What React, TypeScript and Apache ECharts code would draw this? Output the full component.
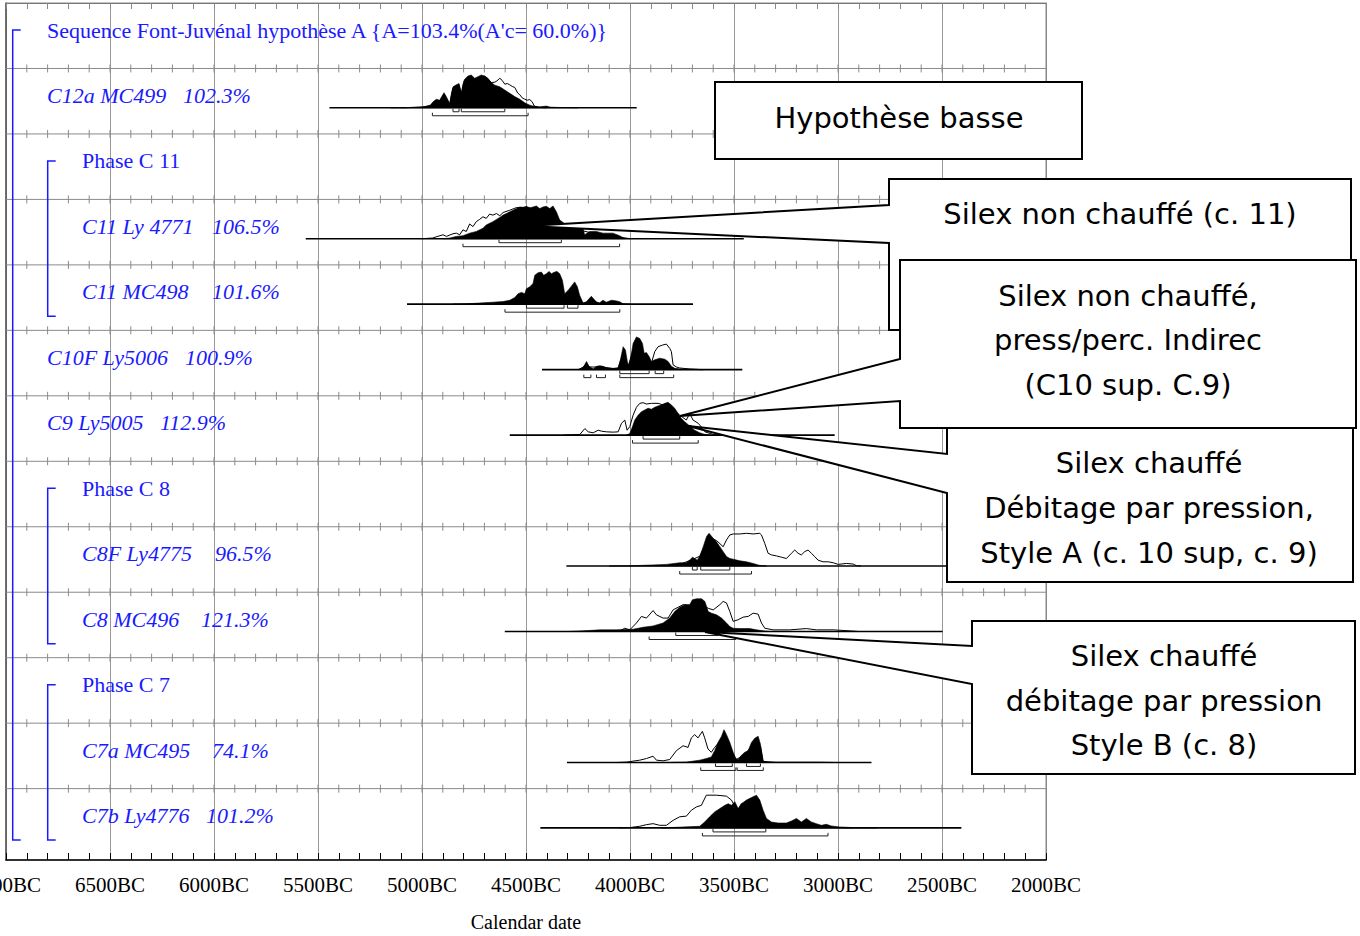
import React, { useEffect, useRef } from "react";
import * as echarts from "echarts";

// ---------------- axis ----------------
const YEAR_MIN = -7000;
const YEAR_MAX = -2000;
const YEAR_STEP = 500;
const MINOR_STEP = 100;
const ROW_MAX = 13.09;
const axisTitle = "Calendar date";

// ---------------- rows ----------------
const rowNames = [
  "Sequence Font-Juvénal hypothèse A {A=103.4%(A'c= 60.0%)}",
  "C12a MC499",
  "Phase C 11",
  "C11 Ly 4771",
  "C11 MC498",
  "C10F Ly5006",
  "C9 Ly5005",
  "Phase C 8",
  "C8F Ly4775",
  "C8 MC496",
  "Phase C 7",
  "C7a MC495",
  "C7b Ly4776",
];
const rowAgreements = ["", "102.3%", "", "106.5%", "101.6%", "100.9%", "112.9%", "", "96.5%", "121.3%", "", "74.1%", "101.2%"];
const rowIsDate = [false, true, false, true, true, true, true, false, true, true, false, true, true];
const rowLineIndex = [1, 2, 3, 4, 5, 6, 7, 8, 9, 10, 11, 12];

// ---------------- distributions: [year BC, relative height] ----------------
const c12aPrior = [[5100,0],[5000,0.02],[4960,0.06],[4947,0.15],[4931,0.22],[4915,0.2],[4900,0.36],[4894,0.42],[4880,0.26],[4867,0.1],[4858,0.4],[4851,0.6],[4835,0.66],[4822,0.7],[4811,0.42],[4800,0.76],[4779,0.9],[4747,0.85],[4715,0.95],[4699,0.96],[4683,0.88],[4667,0.77],[4650,0.78],[4640,0.82],[4626,0.9],[4615,0.84],[4602,0.72],[4590,0.74],[4578,0.7],[4566,0.65],[4554,0.62],[4540,0.45],[4530,0.4],[4518,0.3],[4506,0.26],[4494,0.23],[4482,0.25],[4470,0.18],[4460,0.05],[4440,0.01],[4400,0]];
const c12aPost = [[5150,0],[5043,0.01],[4990,0.03],[4960,0.08],[4947,0.18],[4931,0.26],[4915,0.23],[4900,0.4],[4894,0.46],[4880,0.3],[4867,0.12],[4858,0.45],[4851,0.64],[4835,0.7],[4822,0.74],[4811,0.45],[4800,0.8],[4795,0.87],[4779,0.97],[4763,1.0],[4747,0.9],[4731,0.95],[4715,1.0],[4699,0.97],[4683,0.9],[4667,0.77],[4650,0.69],[4626,0.64],[4602,0.54],[4578,0.44],[4554,0.34],[4530,0.26],[4506,0.15],[4482,0.08],[4466,0.05],[4434,0.03],[4402,0.05],[4385,0.02],[4350,0.01],[4250,0]];
const c12aSpan = [5445, 3968];
const c12aR68 = [[4851,4822],[4811,4602]];
const c12aR95 = [[4950,4490]];

const c11LyPrior = [[5000,0],[4950,0.02],[4899,0.12],[4883,0.07],[4851,0.15],[4835,0.17],[4819,0.12],[4803,0.27],[4787,0.22],[4771,0.45],[4755,0.37],[4739,0.52],[4723,0.59],[4707,0.67],[4691,0.62],[4675,0.75],[4659,0.72],[4642,0.77],[4626,0.7],[4610,0.8],[4578,0.87],[4546,0.95],[4498,0.96],[4450,0.9],[4400,0.8],[4350,0.6],[4300,0.35],[4200,0.2],[4100,0.1],[4000,0]];
const c11LyPost = [[4899,0],[4867,0.02],[4835,0.07],[4803,0.09],[4771,0.17],[4739,0.22],[4707,0.32],[4691,0.42],[4675,0.47],[4659,0.52],[4642,0.59],[4626,0.65],[4610,0.72],[4594,0.77],[4578,0.82],[4562,0.87],[4546,0.92],[4530,0.97],[4514,0.95],[4498,0.99],[4482,0.94],[4466,0.97],[4450,1.0],[4434,0.92],[4418,0.97],[4402,0.99],[4386,0.92],[4370,1.0],[4354,0.82],[4338,0.57],[4306,0.42],[4258,0.37],[4226,0.32],[4218,0.12],[4194,0.22],[4162,0.22],[4130,0.17],[4082,0.17],[4050,0.09],[4025,0]];
const c11LySpan = [5559, 3453];
const c11LyR68 = [[4630,4330]];
const c11LyR95 = [[4803,4050]];

const c11McPrior: number[][] = [];
const c11McPost = [[4850,0],[4787,0.01],[4706,0.04],[4658,0.06],[4610,0.08],[4578,0.12],[4554,0.2],[4538,0.32],[4522,0.36],[4506,0.32],[4498,0.47],[4482,0.53],[4466,0.63],[4458,0.88],[4442,0.96],[4426,0.98],[4415,0.88],[4402,0.93],[4389,1.0],[4378,0.93],[4362,0.98],[4351,1.0],[4338,0.93],[4325,0.73],[4314,0.32],[4298,0.42],[4282,0.55],[4266,0.68],[4253,0.53],[4242,0.27],[4226,0.04],[4210,0.07],[4186,0.24],[4162,0.07],[4146,0.04],[4130,0.12],[4114,0.06],[4089,0.12],[4065,0.1],[4049,0.07],[4033,0.01],[4001,0]];
const c11McSpan = [5072, 3697];
const c11McR68 = [[4498,4317],[4301,4250]];
const c11McR95 = [[4601,4049]];

const c10fPrior = [[4250,0],[4222,0.08],[4209,0.2],[4197,0.08],[4161,0.08],[4129,0.08],[4081,0.03],[4057,0.05],[4033,0.5],[4009,0.1],[3985,0.6],[3969,0.7],[3940,0.6],[3921,0.3],[3908,0.3],[3897,0.2],[3881,0.55],[3865,0.7],[3844,0.75],[3825,0.78],[3809,0.65],[3801,0.55],[3793,0.15],[3777,0.08],[3761,0.05],[3713,0.02],[3650,0]];
const c10fPost = [[4242,0],[4222,0.1],[4209,0.25],[4197,0.1],[4177,0.02],[4161,0.1],[4145,0.12],[4129,0.1],[4113,0.05],[4081,0.04],[4057,0.05],[4046,0.3],[4033,0.7],[4022,0.6],[4009,0.1],[3998,0.3],[3985,0.8],[3969,1.0],[3953,0.95],[3940,0.8],[3932,0.5],[3921,0.52],[3908,0.4],[3897,0.25],[3881,0.3],[3857,0.35],[3833,0.32],[3817,0.25],[3801,0.1],[3785,0.04],[3761,0.02],[3713,0.01],[3649,0]];
const c10fSpan = [4423, 3460];
const c10fR68 = [[4049,3908],[3879,3838]];
const c10fR95 = [[4222,4188],[4161,4118],[4049,3790]];

const c9Prior = [[4322,0],[4280,0.01],[4241,0.02],[4217,0.2],[4201,0.1],[4177,0.07],[4153,0.15],[4137,0.12],[4113,0.1],[4081,0.09],[4057,0.1],[4041,0.36],[4025,0.46],[4014,0.15],[4001,0.26],[3985,0.61],[3969,0.85],[3953,0.97],[3937,0.99],[3921,0.95],[3897,0.97],[3865,0.97],[3825,0.89],[3793,0.79],[3761,0.61],[3729,0.46],[3713,0.66],[3697,0.46],[3672,0.36],[3661,0.28],[3640,0.1],[3600,0.02],[3568,0]];
const c9Post = [[4017,0],[4001,0.05],[3988,0.26],[3977,0.46],[3961,0.61],[3945,0.71],[3929,0.77],[3913,0.82],[3897,0.79],[3881,0.85],[3865,0.89],[3849,0.92],[3833,0.97],[3817,1.0],[3801,0.92],[3785,0.82],[3769,0.66],[3753,0.51],[3737,0.41],[3713,0.28],[3689,0.15],[3665,0.07],[3640,0.02],[3616,0]];
const c9Span = [4578, 3016];
const c9R68 = [[3937,3761]];
const c9R95 = [[3988,3672]];

const c8fPrior = [[3780,0],[3700,0.2],[3664,0.3],[3632,0.7],[3610,0.85],[3584,0.78],[3552,0.59],[3536,0.8],[3520,0.95],[3504,0.98],[3472,0.98],[3440,1.0],[3408,0.98],[3376,1.0],[3368,0.95],[3352,0.69],[3336,0.39],[3320,0.34],[3296,0.31],[3272,0.27],[3248,0.23],[3224,0.39],[3208,0.49],[3192,0.39],[3176,0.34],[3160,0.44],[3144,0.49],[3128,0.39],[3112,0.29],[3096,0.18],[3072,0.13],[3047,0.13],[3023,0.1],[2999,0.05],[2959,0.08],[2927,0.06],[2911,0.01],[2890,0]];
const c8fPost = [[4100,0],[3985,0.01],[3825,0.05],[3761,0.1],[3729,0.1],[3713,0.18],[3700,0.27],[3689,0.23],[3677,0.18],[3664,0.31],[3648,0.59],[3632,0.9],[3620,1.0],[3600,0.85],[3584,0.74],[3568,0.59],[3552,0.44],[3536,0.29],[3520,0.23],[3504,0.21],[3472,0.16],[3440,0.13],[3408,0.08],[3376,0.02],[3344,0]];
const c8fSpan = [4306, 2480];
const c8fR68 = [[3700,3677],[3660,3520]];
const c8fR95 = [[3761,3416]];

const c8Prior = [[4080,0],[4049,0.02],[4025,0.1],[4001,0.05],[3969,0.26],[3945,0.46],[3921,0.41],[3889,0.64],[3873,0.51],[3841,0.41],[3817,0.41],[3793,0.66],[3769,0.74],[3745,0.82],[3713,0.8],[3680,0.9],[3650,0.8],[3624,0.71],[3600,0.66],[3568,0.82],[3552,0.92],[3536,0.87],[3520,0.61],[3504,0.31],[3480,0.36],[3456,0.44],[3432,0.46],[3408,0.56],[3384,0.53],[3368,0.26],[3352,0.1],[3312,0.05],[3232,0.05],[3152,0.09],[3104,0.05],[3023,0.05],[2943,0.02],[2900,0]];
const c8Post = [[4300,0],[4225,0.02],[4145,0.05],[4065,0.05],[3985,0.07],[3937,0.13],[3889,0.17],[3841,0.26],[3809,0.41],[3785,0.61],[3761,0.74],[3737,0.82],[3713,0.82],[3700,0.97],[3680,1.0],[3656,1.0],[3640,0.92],[3624,0.61],[3608,0.56],[3584,0.51],[3560,0.41],[3536,0.26],[3520,0.15],[3504,0.1],[3472,0.09],[3424,0.09],[3392,0.05],[3360,0.02],[3328,0]];
const c8Span = [4602, 2497];
const c8R68 = [[3780,3576]];
const c8R95 = [[3908,3491]];

const c7aPrior = [[4060,0],[4017,0.01],[3953,0.07],[3921,0.12],[3889,0.19],[3873,0.07],[3841,0.05],[3809,0.09],[3777,0.36],[3745,0.51],[3721,0.46],[3705,0.75],[3689,0.85],[3673,0.75],[3652,0.95],[3641,0.75],[3625,0.41],[3609,0.31],[3593,0.46],[3560,0.7],[3536,0.7],[3491,0.08],[3448,0.25],[3400,0.6],[3373,0.5],[3360,0.03],[3300,0]];
const c7aPost = [[3800,0],[3729,0.01],[3665,0.07],[3633,0.12],[3609,0.17],[3593,0.36],[3577,0.61],[3560,0.8],[3548,1.0],[3536,0.85],[3520,0.61],[3504,0.31],[3491,0.12],[3480,0.09],[3464,0.22],[3448,0.31],[3432,0.36],[3416,0.61],[3400,0.74],[3384,0.8],[3373,0.56],[3360,0.04],[3336,0.01],[3088,0.01],[3024,0]];
const c7aSpan = [4303, 2839];
const c7aR68 = [[3589,3508],[3440,3373]];
const c7aR95 = [[3660,3491],[3485,3359]];

const c7bPrior = [[4050,0],[4001,0.01],[3953,0.05],[3921,0.1],[3889,0.13],[3857,0.08],[3825,0.08],[3793,0.23],[3761,0.34],[3729,0.36],[3705,0.54],[3681,0.64],[3657,0.69],[3633,1.0],[3585,1.0],[3536,0.97],[3512,0.85],[3496,0.66],[3480,0.56],[3464,0.74],[3440,0.7],[3392,0.7],[3344,0.25],[3310,0.1],[3250,0.06],[3100,0.03],[2930,0]];
const c7bPost = [[3850,0],[3809,0.01],[3665,0.05],[3641,0.18],[3617,0.34],[3593,0.49],[3568,0.59],[3544,0.69],[3528,0.74],[3512,0.69],[3496,0.8],[3480,0.59],[3464,0.74],[3440,0.85],[3416,0.93],[3392,1.0],[3376,0.85],[3360,0.54],[3344,0.29],[3320,0.18],[3288,0.15],[3248,0.15],[3224,0.21],[3200,0.29],[3176,0.18],[3152,0.29],[3128,0.18],[3104,0.13],[3080,0.08],[3056,0.11],[3032,0.06],[2992,0.03],[2927,0.01],[2815,0]];
const c7bSpan = [4431, 2407];
const c7bR68 = [[3601,3347]];
const c7bR95 = [[3652,3048]];

const distRows = [
  { row: 1, prior: c12aPrior, post: c12aPost, span: c12aSpan, r68: c12aR68, r95: c12aR95 },
  { row: 3, prior: c11LyPrior, post: c11LyPost, span: c11LySpan, r68: c11LyR68, r95: c11LyR95 },
  { row: 4, prior: c11McPrior, post: c11McPost, span: c11McSpan, r68: c11McR68, r95: c11McR95 },
  { row: 5, prior: c10fPrior, post: c10fPost, span: c10fSpan, r68: c10fR68, r95: c10fR95 },
  { row: 6, prior: c9Prior, post: c9Post, span: c9Span, r68: c9R68, r95: c9R95 },
  { row: 8, prior: c8fPrior, post: c8fPost, span: c8fSpan, r68: c8fR68, r95: c8fR95 },
  { row: 9, prior: c8Prior, post: c8Post, span: c8Span, r68: c8R68, r95: c8R95 },
  { row: 11, prior: c7aPrior, post: c7aPost, span: c7aSpan, r68: c7aR68, r95: c7aR95 },
  { row: 12, prior: c7bPrior, post: c7bPost, span: c7bSpan, r68: c7bR68, r95: c7bR95 },
];

// ---------------- callout texts ----------------
const calloutTexts = [
  ["Hypothèse basse"],
  ["Silex non chauffé (c. 11)"],
  ["Silex non chauffé,", "press/perc. Indirec", "(C10 sup. C.9)"],
  ["Silex chauffé", "Débitage par pression,", "Style A (c. 10 sup, c. 9)"],
  ["Silex chauffé", "débitage par pression", "Style B (c. 8)"],
];

// ---------------- layout (pixels / styles) ----------------
const GRID_LEFT = 6;
const GRID_TOP = 3;
const GRID_RIGHT = 314;
const GRID_BOTTOM = 76;
const ROW_PX = (936 - GRID_TOP - GRID_BOTTOM) / ROW_MAX;
const PEAK = 0.5;
const BASE_OFF = 0.6;
const BLUE = "#1a1aff";
const SERIF = "Liberation Serif";
const CALLOUT_FONT = "DejaVu Sans";
const nameX = [47, 47, 82, 82, 82, 47, 47, 82, 82, 82, 82, 82, 82];
const pctX = [0, 183, 0, 212, 212, 185, 160, 0, 215, 201, 0, 212, 206];
const calloutShapes = [
  { pts: [[715, 82], [1082, 82], [1082, 159], [715, 159]], cx: 899, lines: [118] },
  { pts: [[889, 179], [1351, 179], [1351, 330], [889, 330], [889, 243], [527, 226], [889, 205]], cx: 1120, lines: [214] },
  { pts: [[900, 260], [1356, 260], [1356, 428], [900, 428], [900, 401], [680, 416], [900, 359]], cx: 1128, lines: [296, 340, 385] },
  { pts: [[947, 428], [1353, 428], [1353, 582], [947, 582], [947, 493], [688, 426], [947, 454]], cx: 1149, lines: [463, 508, 553] },
  { pts: [[972, 621], [1355, 621], [1355, 774], [972, 774], [972, 684], [705, 632], [972, 646]], cx: 1164, lines: [656, 701, 745] },
];
const bracketSpans = [
  { x: 12.7, fromRow: 0, toRow: 12 },
  { x: 47.7, fromRow: 2, toRow: 4 },
  { x: 47.7, fromRow: 7, toRow: 9 },
  { x: 47.7, fromRow: 10, toRow: 12 },
];

const labelY = (r: number) => GRID_TOP + r * ROW_PX + 27;

function renderRowLine(params: any, api: any) {
  const r = rowLineIndex[params.dataIndex];
  const p0 = api.coord([YEAR_MIN, r]);
  const p1 = api.coord([YEAR_MAX, r]);
  const children: any[] = [
    { type: "line", shape: { x1: p0[0], y1: p0[1], x2: p1[0], y2: p1[1] }, style: { stroke: "#8a8a8a", lineWidth: 1 } },
  ];
  for (let yr = YEAR_MIN + MINOR_STEP; yr < YEAR_MAX; yr += MINOR_STEP) {
    const t = api.coord([yr, r]);
    children.push({ type: "line", shape: { x1: t[0], y1: t[1] - 4, x2: t[0], y2: t[1] + 4 }, style: { stroke: "#8a8a8a", lineWidth: 1 } });
  }
  return { type: "group", children };
}

function renderDist(params: any, api: any) {
  const d = distRows[params.dataIndex];
  const base = d.row + BASE_OFF;
  const pt = (bc: number, h: number) => api.coord([-bc, base - h * PEAK]);
  const children: any[] = [];
  if (d.prior.length) {
    children.push({
      type: "polyline",
      shape: { points: d.prior.map(([bc, h]) => pt(bc, h)) },
      style: { stroke: "#000", lineWidth: 1, fill: "none" },
    });
  }
  const post = d.post.map(([bc, h]) => pt(bc, h));
  post.push(pt(d.post[d.post.length - 1][0], 0));
  post.push(pt(d.post[0][0], 0));
  children.push({ type: "polygon", shape: { points: post }, style: { fill: "#000", stroke: "#000", lineWidth: 0.6 } });
  const b0 = pt(d.span[0], 0);
  const b1 = pt(d.span[1], 0);
  children.push({ type: "line", shape: { x1: b0[0], y1: b0[1], x2: b1[0], y2: b1[1] }, style: { stroke: "#000", lineWidth: 1.6 } });
  const bracket = (ranges: number[][], off: number) => {
    ranges.forEach(([a, b]) => {
      const p = pt(a, 0);
      const q = pt(b, 0);
      const y = p[1] + off;
      children.push({
        type: "polyline",
        shape: { points: [[p[0], y - 3], [p[0], y], [q[0], y], [q[0], y - 3]] },
        style: { stroke: "#222", lineWidth: 1, fill: "none" },
      });
    });
  };
  bracket(d.r68, 4);
  bracket(d.r95, 8);
  return { type: "group", children };
}

function buildGraphic() {
  const els: any[] = [];
  rowNames.forEach((name, r) => {
    const style = rowIsDate[r] ? "italic" : "normal";
    els.push({
      type: "text", z: 50,
      style: { text: name, x: nameX[r], y: labelY(r), fill: BLUE, fontFamily: SERIF, fontSize: 22, fontStyle: style, align: "left", verticalAlign: "middle" },
    });
    if (rowAgreements[r]) {
      els.push({
        type: "text", z: 50,
        style: { text: rowAgreements[r], x: pctX[r], y: labelY(r), fill: BLUE, fontFamily: SERIF, fontSize: 22, fontStyle: style, align: "left", verticalAlign: "middle" },
      });
    }
  });
  bracketSpans.forEach((b) => {
    const top = labelY(b.fromRow);
    const bottom = GRID_TOP + (b.toRow + 1) * ROW_PX - 14;
    els.push({
      type: "polyline", z: 50,
      shape: { points: [[b.x + 8, top], [b.x, top], [b.x, bottom], [b.x + 8, bottom]] },
      style: { stroke: BLUE, lineWidth: 1.5, fill: "none" },
    });
  });
  calloutShapes.forEach((c, i) => {
    els.push({ type: "polygon", z: 100, shape: { points: c.pts }, style: { fill: "#fff", stroke: "#000", lineWidth: 2 } });
    calloutTexts[i].forEach((line, j) => {
      els.push({
        type: "text", z: 101,
        style: { text: line, x: c.cx, y: c.lines[j], fill: "#000", fontFamily: CALLOUT_FONT, fontSize: 29, align: "center", verticalAlign: "middle" },
      });
    });
  });
  return els;
}

function buildOption(): any {
  return {
    animation: false,
    backgroundColor: "#fff",
    grid: {
      left: GRID_LEFT, right: GRID_RIGHT, top: GRID_TOP, bottom: GRID_BOTTOM,
      containLabel: false, outerBoundsMode: "none",
      show: true, borderColor: "#888", borderWidth: 1,
    },
    xAxis: [
      {
        type: "value", min: YEAR_MIN, max: YEAR_MAX, interval: YEAR_STEP, position: "bottom",
        axisLine: { show: true, onZero: false, lineStyle: { color: "#000", width: 1.5 } },
        axisTick: { show: true, inside: true, length: 7, lineStyle: { color: "#000" } },
        minorTick: { show: true, splitNumber: 5, length: 7, lineStyle: { color: "#000" } },
        axisLabel: { formatter: (v: number) => `${-v}BC`, fontFamily: SERIF, fontSize: 21, color: "#000", margin: 14, showMinLabel: true, showMaxLabel: true },
        splitLine: { show: true, lineStyle: { color: "#999", width: 1 } },
        name: axisTitle, nameLocation: "middle", nameGap: 52,
        nameTextStyle: { fontFamily: SERIF, fontSize: 20, color: "#000" },
      },
      {
        type: "value", min: YEAR_MIN, max: YEAR_MAX, interval: YEAR_STEP, position: "top",
        axisLine: { show: true, onZero: false, lineStyle: { color: "#777", width: 1 } },
        axisTick: { show: true, inside: true, length: 6, lineStyle: { color: "#888" } },
        minorTick: { show: true, splitNumber: 5, length: 6, lineStyle: { color: "#888" } },
        axisLabel: { show: false },
        splitLine: { show: false },
      },
    ],
    yAxis: [
      {
        type: "value", min: 0, max: ROW_MAX, inverse: true, position: "left",
        axisLine: { show: true, onZero: false, lineStyle: { color: "#555", width: 1.5 } },
        axisTick: { show: false }, axisLabel: { show: false }, splitLine: { show: false },
      },
      {
        type: "value", min: 0, max: ROW_MAX, inverse: true, position: "right",
        axisLine: { show: true, onZero: false, lineStyle: { color: "#888", width: 1 } },
        axisTick: { show: false }, axisLabel: { show: false }, splitLine: { show: false },
      },
    ],
    series: [
      {
        type: "custom", name: "rows", xAxisIndex: 0, yAxisIndex: 0, z: 1, silent: true,
        data: rowLineIndex.map((r) => [(YEAR_MIN + YEAR_MAX) / 2, r]),
        renderItem: renderRowLine,
      },
      {
        type: "custom", name: "distributions", xAxisIndex: 0, yAxisIndex: 0, z: 5, silent: true,
        data: distRows.map((d) => [-(d.span[0] + d.span[1]) / 2, d.row + BASE_OFF]),
        renderItem: renderDist,
      },
    ],
    graphic: buildGraphic(),
  };
}

export default function App() {
  const ref = useRef<HTMLDivElement>(null);
  useEffect(() => {
    const chart = echarts.init(ref.current!, null, { renderer: "svg" });
    chart.setOption(buildOption());
    return () => chart.dispose();
  }, []);
  return (
    <div
      ref={ref}
      style={{ position: "fixed", left: 0, top: 0, width: 1360, height: 936, background: "#fff" }}
    />
  );
}
